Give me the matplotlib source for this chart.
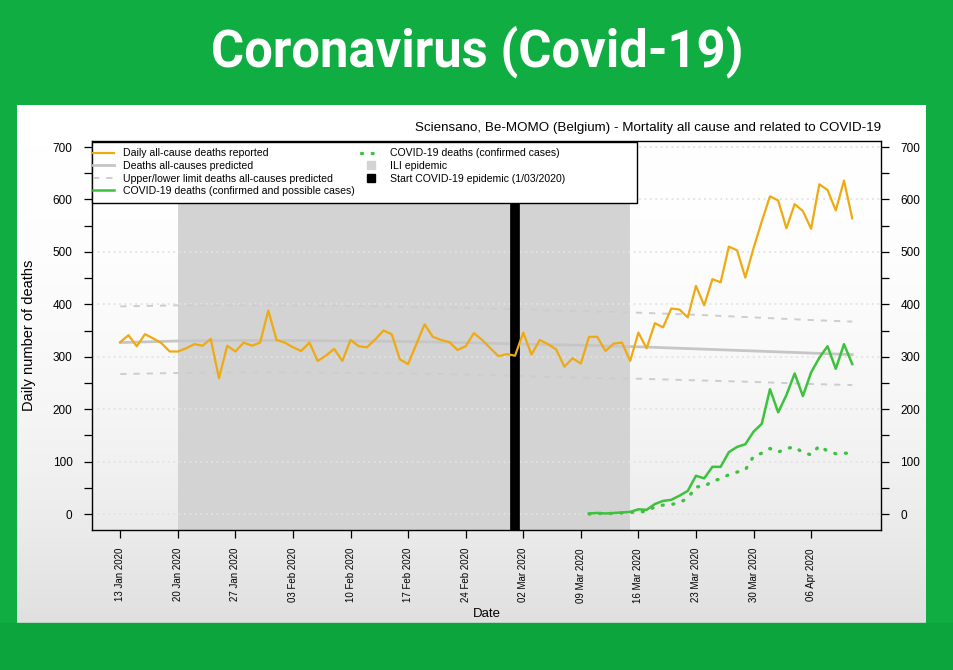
import numpy as np
import pandas as pd
import matplotlib
matplotlib.use("Agg")
import matplotlib.pyplot as plt
import matplotlib.dates as mdates
from matplotlib.lines import Line2D
from matplotlib.colors import LinearSegmentedColormap
from matplotlib.patches import Rectangle

plt.rcParams['font.family'] = ['Liberation Sans', 'DejaVu Sans']

# daily data, 13 Jan 2020 -> 11 Apr 2020
start_day = '2020-01-13'
all_cause = [328, 341, 320, 343, 335, 326, 310, 310, 316, 324,
             321, 334, 259, 321, 310, 327, 321, 327, 388, 332,
             327, 318, 311, 327, 292, 302, 315, 292, 332, 320,
             318, 333, 350, 343, 295, 286, 324, 362, 338, 332,
             328, 313, 320, 345, 332, 316, 301, 305, 302, 346,
             304, 332, 324, 314, 281, 297, 287, 338, 338, 311,
             325, 327, 292, 346, 316, 364, 356, 392, 390, 375,
             435, 398, 448, 442, 510, 503, 451, 507, 558, 606,
             598, 545, 591, 578, 544, 629, 618, 579, 636, 564]

# covid series start 10 Mar 2020
covid_start = '2020-03-10'
covid_all = [1, 2, 1, 2, 3, 4, 9, 8, 19, 25, 27, 35, 44, 73, 68, 90, 90,
             118, 128, 133, 157, 172, 238, 194, 227, 268, 225, 270, 298,
             320, 277, 324, 286]
covid_confirmed = [0, 1, 1, 1, 2, 3, 4, 5, 14, 17, 18, 22, 30, 52, 52, 63,
                   67, 75, 80, 84, 110, 116, 125, 118, 125, 128, 117, 113,
                   130, 120, 115, 116, 116]

# predicted baseline and limits (read weekly + last day)
pred_days = [0, 7, 14, 21, 28, 35, 42, 49, 56, 63, 70, 77, 84, 89]
predicted = [327, 330, 331, 331, 330, 329, 327, 324, 322, 319, 315, 311, 307, 304]
upper = [396, 398, 398, 398, 397, 395, 393, 390, 387, 384, 380, 375, 370, 367]
lower = [267, 269, 270, 270, 269, 268, 266, 263, 260, 258, 255, 252, 248, 246]

ili_start, ili_end = '2020-01-20', '2020-03-15'
epidemic_start = '2020-03-01'
tick_dates = pd.date_range('2020-01-13', '2020-04-06', freq='7D')

dates = pd.date_range(start_day, periods=len(all_cause))
cdates = pd.date_range(covid_start, periods=len(covid_all))
pdates = pd.Timestamp(start_day) + pd.to_timedelta(pred_days, unit='D')

W, H = 954, 670
fig = plt.figure(figsize=(W / 100, H / 100), dpi=100)
fig.patch.set_facecolor('#10ae42')
fig.patches.append(Rectangle((0, 0), 1, 1 - 623 / H, transform=fig.transFigure,
                             color='#0ca43d', zorder=0))

# white panel with a slight grey fade at the bottom
pan = fig.add_axes([17 / W, 1 - 623 / H, (926 - 17) / W, (623 - 105) / H], zorder=0)
grad = np.linspace(0, 1, 256).reshape(-1, 1) ** 2.2
cm = LinearSegmentedColormap.from_list('fade', ['#ffffff', '#e0e0e0'])
pan.imshow(grad, aspect='auto', cmap=cm, extent=[0, 1, 0, 1], origin='upper')
pan.axis('off')

fig.text(477 / W, 1 - 52 / H, 'Coronavirus (Covid-19)', color='white',
         fontsize=36.5, fontweight='bold', family='Roboto', ha='center', va='center')

ax = fig.add_axes([92 / W, 1 - 530 / H, (881 - 92) / W, (530 - 141) / H], zorder=1)
ax.set_facecolor('none')

x0 = mdates.date2num(pd.Timestamp(start_day))
ax.set_xlim(x0 - 3.44, x0 + 92.5)
ax.set_ylim(-30.5, 711.5)

ax.axvspan(pd.Timestamp(ili_start), pd.Timestamp(ili_end), color='#d3d3d3', lw=0, zorder=1)
for yv in range(0, 701, 100):
    ax.axhline(yv, color='#e2e2e2', lw=1.3, ls=(0, (1, 2)), zorder=2)

ax.plot(pdates, predicted, color='#c6c6c6', lw=2.0, zorder=3)
ax.plot(pdates, upper, color='#cdcdcd', lw=1.4, ls=(0, (3.2, 3.6)), zorder=3)
ax.plot(pdates, lower, color='#cdcdcd', lw=1.4, ls=(0, (3.2, 3.6)), zorder=3)
ax.axvline(pd.Timestamp(epidemic_start), color='black', lw=7, zorder=4)
ax.plot(dates, all_cause, color='#eeaa10', lw=1.6, zorder=5)
ax.plot(cdates, covid_all, color='#3cc23c', lw=1.8, zorder=5)
ax.plot(cdates, covid_confirmed, color='#3cc23c', lw=2.4,
        ls=(0, (0.3, 2.9)), dash_capstyle='round', zorder=5)

ax.set_yticks(range(0, 701, 100))
ax.set_yticks(range(50, 701, 100), minor=True)
ax.tick_params(axis='y', which='both', direction='out', length=6, width=0.9,
               left=True, right=True, labelleft=True, labelright=True,
               labelsize=8.5, pad=8)
ax.set_ylabel('Daily number of deaths', fontsize=10.5, labelpad=12)

ax.set_xticks(tick_dates)
ax.xaxis.set_major_formatter(mdates.DateFormatter('%d %b %Y'))
ax.tick_params(axis='x', direction='out', length=6, width=0.9, labelsize=7,
               pad=7, labelrotation=90)
ax.set_xlabel('Date', fontsize=9.5, labelpad=4)
for s in ax.spines.values():
    s.set_linewidth(1.0)

ax.set_title('Sciensano, Be-MOMO (Belgium) - Mortality all cause and related to COVID-19',
             loc='right', fontsize=9.6, pad=7)

handles = [
    Line2D([], [], color='#eeaa10', lw=1.6),
    Line2D([], [], color='#c6c6c6', lw=2.0),
    Line2D([], [], color='#cdcdcd', lw=1.4, ls=(0, (3.2, 3.6))),
    Line2D([], [], color='#3cc23c', lw=1.8),
    Line2D([], [], color='#3cc23c', lw=2.4, ls=(0, (0.3, 2.9)), dash_capstyle='round'),
    Line2D([], [], color='#d3d3d3', marker='s', ls='none', markersize=6),
    Line2D([], [], color='black', marker='s', ls='none', markersize=6),
]
labels = ['Daily all-cause deaths reported', 'Deaths all-causes predicted',
          'Upper/lower limit deaths all-causes predicted',
          'COVID-19 deaths (confirmed and possible cases)',
          'COVID-19 deaths (confirmed cases)', 'ILI epidemic',
          'Start COVID-19 epidemic (1/03/2020)']
leg = ax.legend(handles, labels, ncol=2, loc='upper left',
                bbox_to_anchor=(93 / W, 1 - 148.5 / H), bbox_transform=fig.transFigure,
                fontsize=7.6, frameon=False, borderpad=0, labelspacing=0.24,
                handlelength=2.0, handletextpad=0.8, columnspacing=0.6,
                borderaxespad=0)
leg.set_zorder(11)
# legend frame (R legends keep extra space on the right)
box = Rectangle((92 / W, 1 - 203 / H), (637 - 92) / W, (203 - 142) / H,
                transform=fig.transFigure, facecolor='white', edgecolor='black',
                lw=1.0, zorder=10)
ax.add_artist(box)
box.set_clip_on(False)

fig.savefig('out.png', dpi=100, facecolor=fig.get_facecolor())
